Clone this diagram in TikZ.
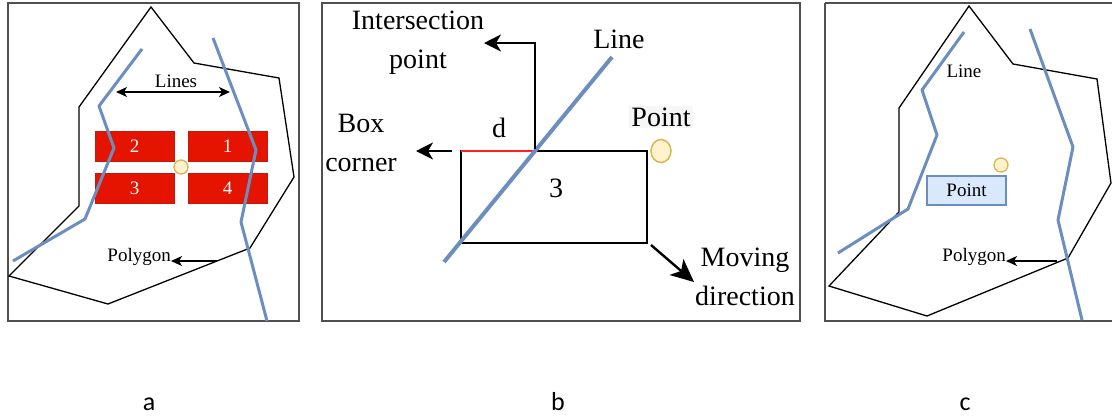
\documentclass[tikz,border=0pt]{standalone}
\usepackage{fontspec}
\setmainfont{Liberation Serif}
\newfontfamily\capfont{Carlito}
\usetikzlibrary{arrows.meta,shapes.geometric}
\definecolor{frameC}{HTML}{505050}
\definecolor{blueL}{HTML}{6C8EBF}
\definecolor{redF}{HTML}{E51400}
\definecolor{redD}{HTML}{C21A0A}
\definecolor{ptF}{HTML}{FFF2CC}
\definecolor{ptD}{HTML}{D6B656}
\definecolor{boxF}{HTML}{DAE8FC}
\definecolor{segR}{HTML}{FF2020}
\tikzset{
  frame/.style={draw=frameC, line width=1.4pt},
  poly/.style={draw=black, line width=1.3pt, line join=miter},
  bline/.style={draw=blueL, line width=3pt, line join=round},
  bthick/.style={draw=blueL, line width=4pt},
  redbox/.style={draw=redD, fill=redF, line width=0.8pt, minimum width=79pt, minimum height=30pt, inner sep=0pt, text=white, font=\fontsize{19}{22}\selectfont},
  pt/.style={circle, draw=ptD, fill=ptF, line width=1.3pt, minimum size=14pt, inner sep=0pt},
  small/.style={font=\fontsize{19}{22}\selectfont, inner sep=0pt},
  big/.style={font=\fontsize{28}{39}\selectfont, inner sep=0pt, align=center},
  thinarrow/.style={draw=black, line width=1.3pt, -{Stealth[length=11pt, width=10pt, inset=3pt]}},
  thickarrow/.style={draw=black, line width=2.2pt, -{Stealth[length=17pt, width=17pt, inset=5pt]}},
  bigarrow/.style={draw=black, line width=2.4pt, -{Stealth[length=23pt, width=21pt, inset=6pt]}},
  caplab/.style={font=\capfont\fontsize{26}{30}\selectfont, inner sep=0pt, anchor=base},
}
\begin{document}
\begin{tikzpicture}[x=1pt, y=-1pt]
\useasboundingbox (0,0) rectangle (1112,416);
% ---------------- panel a ----------------
\draw[frame] (8,3) rectangle (299,321);
\draw[poly] (151,7) -- (194,63) -- (279,78) -- (294,177) -- (250,248) -- (108,304) -- (9,276) -- (79,206) -- (79,107) -- cycle;
\node[redbox] (a2) at (134.5,146) {2};
\node[redbox] (a1) at (227.5,146) {1};
\node[redbox] (a3) at (134.5,188.5) {3};
\node[redbox] (a4) at (227.5,188.5) {4};
\draw[bline] (142,49) -- (99,106) -- (114,148) -- (85,219) -- (13,261);
\draw[bline] (213,38) -- (256,150) -- (241,222) -- (267,321);
\node[pt] (apt) at (181,167) {};
\node[small] (alines) at (176,81) {Lines};
\coordinate (alL) at (116,92);
\coordinate (alR) at (230,92);
\draw[thinarrow, {Stealth[length=11pt, width=10pt, inset=3pt]}-{Stealth[length=11pt, width=10pt, inset=3pt]}] (alL) -- (alR);
\node[small, anchor=east] (apoly) at (171,257) {Polygon};
\coordinate (apa) at (217,261);
\draw[thinarrow] (apa) -- (apoly.east |- apa);
% ---------------- panel b ----------------
\draw[frame] (322,3) rectangle (800,321);
\coordinate (bTL) at (461,151);
\coordinate (bBR) at (647,243);
\coordinate (bX) at (535,151);
\draw[draw=black, line width=2.2pt] (bTL) rectangle (bBR);
\draw[draw=segR, line width=2.2pt] (bTL) -- (bX);
\coordinate (bl1) at (444,262);
\coordinate (bl2) at (612,57);
\draw[bthick] (bl1) -- (bl2);
\node[big] (bint) at (418,43) {Intersection\\point};
\coordinate (bia) at (484,43);
\coordinate (bXt) at (535,149);
\draw[thickarrow] (bXt) |- (bia);
\node[big] (bline) at (619,39) {Line};
\node[big, fill=gray!7, inner sep=2pt] (bpt) at (661,117) {Point};
\node[ellipse, draw=ptD, fill=ptF, line width=1.5pt, minimum width=20pt, minimum height=23pt, inner sep=0pt] (bcirc) at (661,151) {};
\node[big] (bd) at (499,128) {d};
\node[big] (b3) at (556,188) {3};
\node[big] (bbox) at (361,143) {Box\\corner};
\coordinate (bba) at (452,151);
\coordinate (bbb) at (416,151);
\draw[thickarrow] (bba) -- (bbb);
\node[big] (bmove) at (745,277) {Moving\\direction};
\coordinate (bma) at (651,245);
\coordinate (bmb) at (694,282);
\draw[bigarrow] (bma) -- (bmb);
% ---------------- panel c ----------------
\draw[frame] (825,3) -- (1112,3);
\draw[frame] (825,3) -- (825,321) -- (1112,321);
\draw[poly] (969,6) -- (1013,64) -- (1097,79) -- (1111,183) -- (1068,258) -- (927,316) -- (829,286) -- (899,212) -- (899,108) -- cycle;
\draw[bline] (964,32) -- (922,90) -- (937,135) -- (908,209) -- (838,253);
\draw[bline] (1030,29) -- (1073,147) -- (1058,220) -- (1082,320);
\node[small] (cline) at (964,71) {Line};
\node[pt] (cpt) at (1001,165) {};
\node[draw=blueL, fill=boxF, line width=1.3pt, minimum width=79pt, minimum height=29pt, inner sep=0pt, font=\fontsize{19}{22}\selectfont] (cbox) at (966.5,190.5) {Point};
\node[small, anchor=east] (cpoly) at (1006,257) {Polygon};
\coordinate (cpa) at (1057,261);
\draw[thinarrow] (cpa) -- (cpoly.east |- cpa);
% ---------------- captions ----------------
\node[caplab] (ca) at (149,410) {a};
\node[caplab] (cb) at (558,410) {b};
\node[caplab] (cc) at (965,410) {c};
\end{tikzpicture}
\end{document}
